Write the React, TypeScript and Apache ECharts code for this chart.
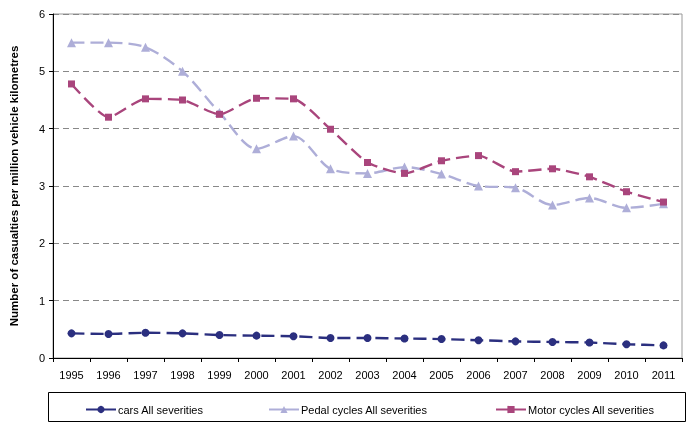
import React, { useEffect, useRef } from "react";
import * as echarts from "echarts";

const years = ["1995","1996","1997","1998","1999","2000","2001","2002","2003","2004","2005","2006","2007","2008","2009","2010","2011"];
const cars = [0.43,0.42,0.44,0.43,0.40,0.39,0.38,0.35,0.35,0.34,0.33,0.31,0.29,0.28,0.27,0.24,0.22];
const pedal = [5.5,5.5,5.42,5.0,4.28,3.65,3.87,3.3,3.22,3.33,3.21,3.0,2.97,2.67,2.79,2.62,2.69];
const motor = [4.78,4.2,4.52,4.5,4.25,4.53,4.52,3.99,3.41,3.22,3.44,3.53,3.25,3.3,3.16,2.9,2.72];
const seriesNames = ["cars All severities","Pedal cycles All severities","Motor cycles All severities"];
const colors = ["#2B2F7F","#AEAED8","#A9457C"];
const yTicks = [0,1,2,3,4,5,6];

export default function App() {
  const ref = useRef<HTMLDivElement>(null);
  useEffect(() => {
    const chart = echarts.init(ref.current!, null, { renderer: "svg" });
    const font = "'Liberation Sans', Arial, sans-serif";
    const mk = (i: number, data: number[], symbol: string, size: number, smooth: number) => ({
      name: seriesNames[i],
      type: "line",
      data,
      symbol,
      symbolSize: size,
      smooth,
      itemStyle: { color: colors[i] },
      lineStyle: { color: colors[i], width: 2.4, type: [13, 6] },
    });
    const legendBase = {
      top: 399,
      itemWidth: 30,
      itemHeight: 9,
      textStyle: { fontFamily: font, fontSize: 11, color: "#000", padding: [0, 0, 0, -3] },
      lineStyle: { type: "solid" },
    };
    chart.setOption({
      animation: false,
      textStyle: { fontFamily: font },
      grid: { left: 51, right: 16, top: 14, bottom: 74, show: true, borderColor: "#999", borderWidth: 1 },
      xAxis: {
        type: "category",
        data: years,
        boundaryGap: true,
        axisLine: { lineStyle: { color: "#000", width: 1 } },
        axisTick: { show: true, length: 4, lineStyle: { color: "#000" }, alignWithLabel: false },
        axisLabel: { fontSize: 11, color: "#000", margin: 11, fontFamily: font },
      },
      yAxis: {
        type: "value",
        min: 0,
        max: 6,
        interval: 1,
        name: "Number of casualties per million vehicle kilometres",
        nameLocation: "middle",
        nameGap: 33,
        nameTextStyle: { fontSize: 11.5, fontWeight: "bold", color: "#000", fontFamily: font },
        axisLine: { show: true, lineStyle: { color: "#000", width: 1 } },
        axisTick: { show: true, length: 4, lineStyle: { color: "#000" } },
        axisLabel: { fontSize: 11, color: "#000", margin: 8, fontFamily: font, formatter: (v: number) => (yTicks.includes(v) ? String(v) : "") },
        splitLine: { show: true, lineStyle: { color: "#888", type: [6, 4], width: 1 } },
      },
      legend: [
        { ...legendBase, left: 80, data: [seriesNames[0]] },
        { ...legendBase, left: 263, data: [seriesNames[1]] },
        { ...legendBase, left: 490, data: [seriesNames[2]] },
      ],
      graphic: [
        { type: "rect", left: 46, top: 390, shape: { width: 637, height: 29 }, style: { fill: "none", stroke: "#000", lineWidth: 1 }, silent: true },
      ],
      series: [
        mk(0, cars, "circle", 8, 0.2),
        mk(1, pedal, "triangle", 9, 0.3),
        mk(2, motor, "rect", 7, 0.2),
      ],
    });
    return () => chart.dispose();
  }, []);
  return <div ref={ref} style={{ position: "fixed", left: 0, top: 0, width: 698, height: 432 }} />;
}
